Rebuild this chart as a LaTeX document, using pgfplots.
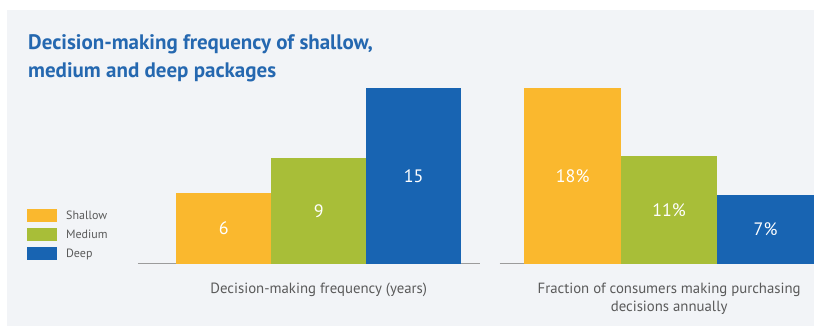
\documentclass[border=0pt]{standalone}
\usepackage{pgfplots}
\pgfplotsset{compat=1.18}
\usepackage{fontspec}
\setmainfont{PT Sans}
\definecolor{cyel}{HTML}{FAB82E}
\definecolor{cgrn}{HTML}{A8BE38}
\definecolor{cblu}{HTML}{1864B2}
\definecolor{ctitle}{HTML}{2568B0}
\definecolor{bgc}{HTML}{F2F4F7}
\definecolor{axc}{HTML}{9C9C9C}
\definecolor{txt}{HTML}{5A5A5A}
\begin{document}
\begin{tikzpicture}[x=1pt,y=1pt]
\fill[white] (0,0) rectangle (814,326);
\fill[bgc] (7,0) rectangle (814,316);
\node[anchor=base west, align=left, text=ctitle, font=\fontsize{21}{28}\selectfont\bfseries, inner sep=0] at (28,248) {Decision-making frequency of shallow,\\medium and deep packages};
\pgfplotsset{
  mybars/.style={
    scale only axis, height=176pt, ymin=0,
    axis y line=none, axis x line*=bottom,
    x axis line style={draw=axc, line width=1pt},
    xtick=\empty, ytick=\empty, clip=false,
  },
  valnodes/.style={draw=none, mark=none, forget plot, nodes near coords, point meta=explicit symbolic,
    every node near coord/.append style={anchor=center, yshift=0pt, text=white, font=\fontsize{18}{20}\selectfont}},
}
\begin{axis}[mybars,
  at={(138pt,62pt)}, anchor=south west,
  width=342pt, xmin=-0.905, xmax=2.695, ymax=15,
  legend style={at={(axis description cs:-0.3246,0.3125)}, anchor=north west, draw=none, fill=none,
     font=\fontsize{12}{13}\selectfont, text=txt, row sep=6pt, inner sep=0pt,
     nodes={inner sep=1pt}},
  legend cell align=left,
  legend image code/.code={\fill[#1,draw=none] (0pt,-6.5pt) rectangle (30pt,6.5pt); \path (38pt,0pt);},
]
\addplot[ybar, bar width=95pt, bar shift=0pt, fill=cyel, draw=none] coordinates {(0,6)};
\addlegendentry{Shallow}
\addplot[ybar, bar width=95pt, bar shift=0pt, fill=cgrn, draw=none] coordinates {(1,9)};
\addlegendentry{Medium}
\addplot[ybar, bar width=95pt, bar shift=0pt, fill=cblu, draw=none] coordinates {(2,15)};
\addlegendentry{Deep}
\addplot[valnodes] coordinates {(0,3)[6] (1,4.5)[9] (2,7.5)[15]};
\node[anchor=base, text=txt, font=\fontsize{14.8}{18}\selectfont] at ([yshift=-30pt]axis cs:1,0) {Decision-making frequency (years)};
\end{axis}
\begin{axis}[mybars,
  at={(500pt,62pt)}, anchor=south west,
  width=314pt, xmin=-0.757, xmax=2.497, ymax=18,
]
\addplot[ybar, bar width=96.5pt, bar shift=0pt, fill=cyel, draw=none] coordinates {(0,18)};
\addplot[ybar, bar width=96.5pt, bar shift=0pt, fill=cgrn, draw=none] coordinates {(1,11)};
\addplot[ybar, bar width=96.5pt, bar shift=0pt, fill=cblu, draw=none] coordinates {(2,7)};
\addplot[valnodes] coordinates {(0,9)[18\%] (1,5.5)[11\%] (2,3.5)[7\%]};
\node[anchor=base, text=txt, font=\fontsize{14.8}{18}\selectfont, align=center] at ([yshift=-48pt]axis cs:1,0) {Fraction of consumers making purchasing\\decisions annually};
\end{axis}
\end{tikzpicture}
\end{document}
